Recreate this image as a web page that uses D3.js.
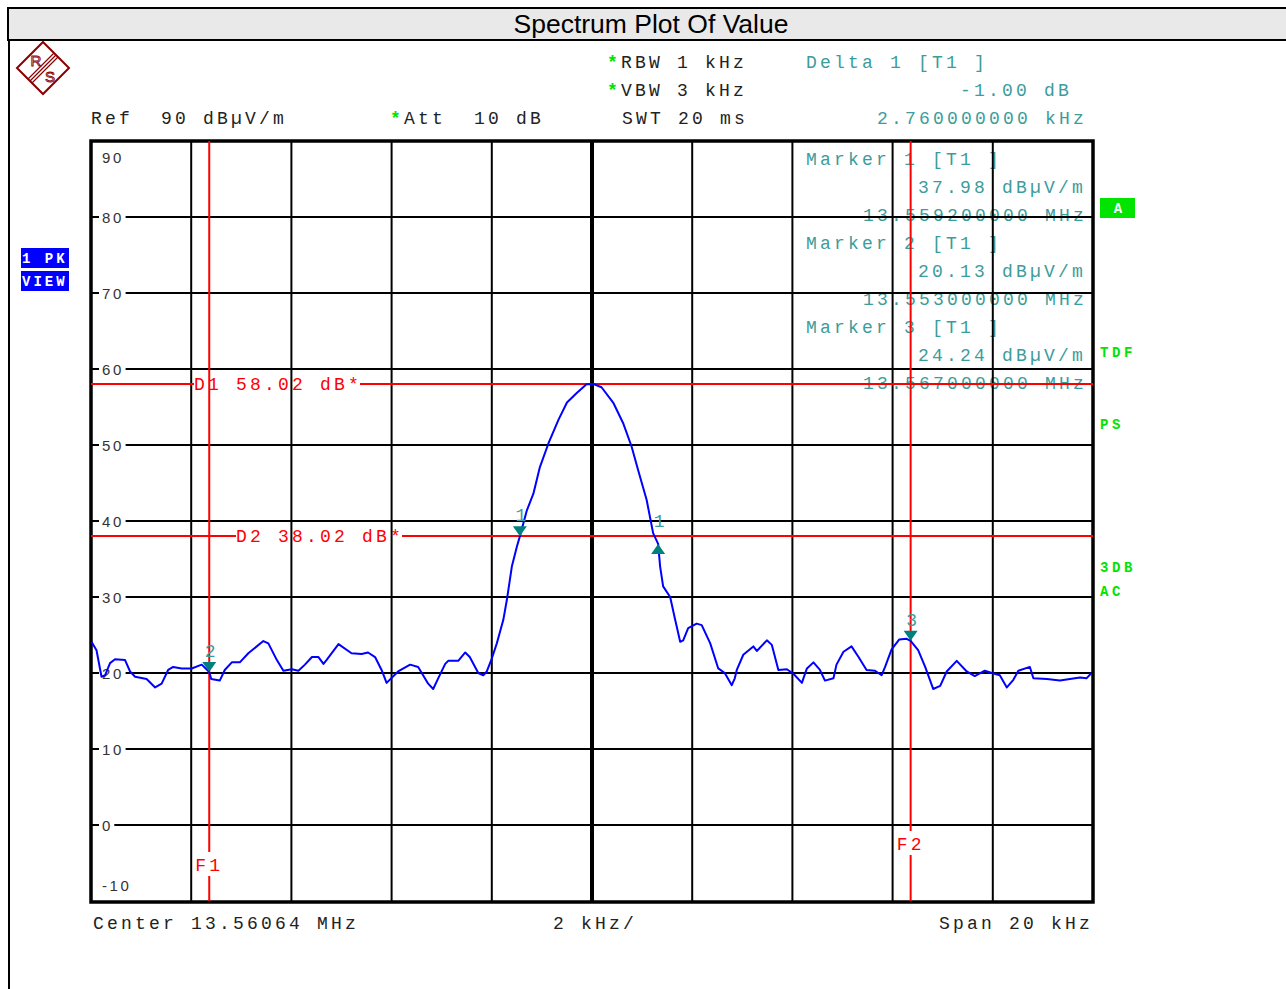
<!DOCTYPE html>
<html>
<head>
<meta charset="utf-8">
<script src="https://cdn.jsdelivr.net/npm/d3@7"></script>
<style>
  body { margin: 0; background: #fff; }
  svg { display: block; }
  .mono { font-family: "Liberation Mono", "Courier New", monospace; font-size: 18px; letter-spacing: 3.2px; }
  .flag { font-family: "Liberation Mono", monospace; font-size: 14px; font-weight: bold; letter-spacing: 3.6px; }
  .ylab { font-family: "Liberation Sans", Arial, sans-serif; font-size: 15px; letter-spacing: 2.6px; fill: #333; }
</style>
</head>
<body>
<div id="chart"></div>
<script>
// trace: offset from centre (kHz) and level (dBµV/m)
const traceKHz = [-9.99,-9.89,-9.79,-9.72,-9.62,-9.52,-9.32,-9.22,-9.12,-8.89,
  -8.72,-8.59,-8.46,-8.36,-8.19,-7.99,-7.79,-7.64,-7.60,-7.43,
  -7.33,-7.19,-7.03,-6.86,-6.56,-6.46,-6.29,-6.16,-5.99,-5.86,
  -5.73,-5.59,-5.46,-5.36,-5.30,-5.06,-4.80,-4.60,-4.47,-4.33,
  -4.20,-4.10,-3.87,-3.63,-3.47,-3.27,-3.17,-3.07,-2.93,-2.87,
  -2.67,-2.53,-2.44,-2.27,-2.17,-2.10,-2.00,-1.90,-1.77,-1.70,
  -1.60,-1.50,-1.44,-1.30,-1.17,-1.04,-0.87,-0.67,-0.50,-0.31,
  -0.11,0.03,0.19,0.43,0.62,0.79,0.92,1.09,1.22,1.32,
  1.36,1.42,1.56,1.66,1.76,1.82,1.92,2.09,2.19,2.36,
  2.52,2.65,2.79,2.85,2.89,3.02,3.22,3.29,3.49,3.59,
  3.72,3.89,4.02,4.19,4.22,4.29,4.42,4.55,4.65,4.82,
  4.88,5.02,5.18,5.32,5.48,5.65,5.78,5.85,5.98,6.13,
  6.28,6.36,6.51,6.65,6.81,6.95,7.08,7.28,7.48,7.64,
  7.84,7.98,8.14,8.28,8.41,8.51,8.74,8.81,9.08,9.34,
  9.54,9.74,9.87,9.97];
const traceDB = [24.1,23.0,19.5,19.7,21.3,21.8,21.7,20.2,19.5,19.2,
  18.1,18.6,20.4,20.8,20.6,20.6,21.1,20.13,19.2,19.0,
  20.4,21.4,21.4,22.6,24.2,23.9,21.7,20.3,20.5,20.3,
  21.1,22.1,22.1,21.2,21.7,23.8,22.6,22.5,22.7,22.1,
  20.4,18.7,20.2,21.1,20.8,18.6,17.9,19.3,21.2,21.6,
  21.6,22.7,22.1,20.0,19.7,20.2,21.9,23.9,27.0,29.6,
  34.0,36.6,37.98,41.4,43.6,47.1,50.2,53.3,55.6,56.8,
  58.0,58.02,57.6,55.5,52.9,49.8,46.7,42.8,38.4,36.98,
  34.0,31.4,30.0,27.0,24.1,24.3,25.9,26.5,26.3,23.9,
  20.6,20.0,18.4,19.3,20.4,22.4,23.5,22.9,24.3,23.7,
  20.4,20.5,19.9,18.7,19.3,20.6,21.4,20.4,19.0,19.3,
  21.1,22.8,23.5,22.1,20.4,20.3,19.7,20.8,23.1,24.4,
  24.5,24.24,23.0,20.8,17.9,18.3,20.2,21.6,20.2,19.6,
  20.3,20.0,19.7,18.1,19.1,20.3,20.8,19.3,19.2,19.0,
  19.2,19.4,19.3,20.0];

const centerMHz = 13.56064;
const spanKHz = 20;
const yTicks = [90, 80, 70, 60, 50, 40, 30, 20, 10, 0, -10];
const xDivs = [-8, -6, -4, -2, 0, 2, 4, 6, 8];

const markerNames = ["1", "2", "3"];
const markerMHz = [13.5592, 13.553, 13.567];
const markerDB = [37.98, 20.13, 24.24];
const deltaKHz = 2.76;
const deltaDB = -1.00;
const displayLines = [58.02, 38.02];
const freqLinesMHz = [13.553, 13.567];

const W = 1286, H = 989;
const plot = { left: 91, right: 1093, top: 141, bottom: 901 };
const teal = "#3c9c9c", green = "#00e400";

const svg = d3.select("#chart").append("svg")
  .attr("width", W).attr("height", H);

const x = d3.scaleLinear().domain([-spanKHz / 2, spanKHz / 2]).range([plot.left, plot.right]);
const y = d3.scaleLinear().domain([-10, 90]).range([plot.bottom, plot.top]);
const toKHz = f => (f - centerMHz) * 1000;

// mono text, cell width 14px
const mono = (g, str, x0, yb, color, cls) => g.append("text")
  .attr("class", cls || "mono")
  .attr("x", x0).attr("y", yb)
  .attr("fill", color)
  .attr("xml:space", "preserve")
  .style("white-space", "pre")
  .text(str);

// title bar and left border
svg.append("rect").attr("x", 8).attr("y", 8).attr("width", W).attr("height", 32)
  .attr("fill", "#e9e9e9").attr("stroke", "#000").attr("stroke-width", 2);
svg.append("line").attr("x1", 9).attr("x2", 9).attr("y1", 40).attr("y2", H)
  .attr("stroke", "#000").attr("stroke-width", 2);
svg.append("text").attr("x", 651).attr("y", 33).attr("text-anchor", "middle")
  .style("font-family", "'Liberation Sans', Arial, sans-serif").style("font-size", "26.5px")
  .text("Spectrum Plot Of Value");

// R&S logo
const logo = svg.append("g").attr("stroke", "#8b0000").attr("fill", "none").attr("stroke-width", 2);
logo.append("path").attr("d", "M43,42 L69,68 L43,94 L17,68 Z");
[-2.8, 0, 2.8].forEach(o => {
  logo.append("line")
    .attr("x1", 56 + o * 0.707).attr("y1", 55 + o * 0.707)
    .attr("x2", 30 + o * 0.707).attr("y2", 81 + o * 0.707)
    .attr("stroke-width", 1.2);
});
svg.append("text").attr("x", 36).attr("y", 66).attr("text-anchor", "middle")
  .style("font-family", "'Liberation Sans', sans-serif").style("font-size", "15px")
  .attr("fill", "none").attr("stroke", "#8b0000").attr("stroke-width", 0.9).text("R");
svg.append("text").attr("x", 50).attr("y", 82).attr("text-anchor", "middle")
  .style("font-family", "'Liberation Sans', sans-serif").style("font-size", "15px")
  .attr("fill", "none").attr("stroke", "#8b0000").attr("stroke-width", 0.9).text("S");

// header settings
const head = svg.append("g");
mono(head, "*", 607, 68, green).style("font-weight", "bold");
mono(head, "RBW 1 kHz", 621, 68, "#222");
mono(head, "*", 607, 96, green).style("font-weight", "bold");
mono(head, "VBW 3 kHz", 621, 96, "#222");
mono(head, "SWT 20 ms", 622, 124, "#222");
mono(head, "Ref  90 dBµV/m", 91, 124, "#222");
mono(head, "*", 390, 124, green).style("font-weight", "bold");
mono(head, "Att  10 dB", 404, 124, "#222");
mono(head, "Delta 1 [T1 ]", 806, 68, teal);
mono(head, (deltaDB.toFixed(2)) + " dB", 960, 96, teal);
mono(head, deltaKHz.toFixed(9) + " kHz", 877, 124, teal);

// left flags
[["1 PK", 248], ["VIEW", 271]].forEach(([t, yy]) => {
  svg.append("rect").attr("x", 21).attr("y", yy).attr("width", 48).attr("height", 20).attr("fill", "#0000ff");
  mono(svg, t, 22, yy + 15, "#fff", "flag").style("letter-spacing", "3px");
});

// right flags
svg.append("rect").attr("x", 1100).attr("y", 198).attr("width", 35).attr("height", 20).attr("fill", green);
svg.append("text").attr("class", "flag").attr("x", 1118).attr("y", 213).attr("text-anchor", "middle")
  .style("letter-spacing", "0px").attr("fill", "#fff").text("A");
[["TDF", 357], ["PS", 429], ["3DB", 572], ["AC", 596]].forEach(([t, yy]) => {
  mono(svg, t, 1100, yy, green, "flag");
});

// marker info (sits under the grid)
const info = svg.append("g");
markerNames.forEach((m, i) => {
  const b = 165 + i * 84;
  mono(info, "Marker " + m + " [T1 ]", 806, b, teal);
  mono(info, markerDB[i].toFixed(2) + " dBµV/m", 918, b + 28, teal);
  mono(info, markerMHz[i].toFixed(9) + " MHz", 863, b + 56, teal);
});

// grid
const grid = svg.append("g").attr("stroke", "#000");
grid.selectAll(".v").data(xDivs).enter().append("line")
  .attr("x1", d => x(d)).attr("x2", d => x(d))
  .attr("y1", plot.top).attr("y2", plot.bottom)
  .attr("stroke-width", d => d === 0 ? 4 : 2);
grid.selectAll(".h").data(yTicks.slice(1, -1)).enter().append("line")
  .attr("x1", plot.left).attr("x2", plot.right)
  .attr("y1", d => y(d)).attr("y2", d => y(d))
  .attr("stroke-width", 2);

// y labels
const ylab = svg.append("g");
yTicks.forEach((t, i) => {
  const s = String(t);
  let yy = y(t);
  if (i === 0) yy = 157;
  else if (i === yTicks.length - 1) yy = 885;
  else ylab.append("rect").attr("x", 99).attr("y", yy - 7)
    .attr("width", s.length * 11.3 + 4).attr("height", 14).attr("fill", "#fff");
  ylab.append("text").attr("class", "ylab").attr("x", 102).attr("y", yy + 5.5).text(s);
});

// frame
svg.append("rect")
  .attr("x", plot.left).attr("y", plot.top)
  .attr("width", plot.right - plot.left).attr("height", plot.bottom - plot.top + 1)
  .attr("fill", "none").attr("stroke", "#000").attr("stroke-width", 3.5);

// display lines D1 / D2
const red = "#ff0000";
const lines = svg.append("g").attr("stroke", red).attr("stroke-width", 2);
const dStart = [194, 236];
displayLines.forEach((v, i) => {
  const label = "D" + (i + 1) + " " + v.toFixed(2) + " dB*";
  const x0 = dStart[i], x1 = x0 + label.length * 14 - 2;
  lines.append("line").attr("x1", plot.left).attr("x2", x0).attr("y1", y(v)).attr("y2", y(v));
  lines.append("line").attr("x1", x1).attr("x2", plot.right).attr("y1", y(v)).attr("y2", y(v));
  mono(svg, label, x0, y(v) + 5.5, red);
});

// frequency lines F1 / F2
const fLabelY = [864, 843];
freqLinesMHz.forEach((f, i) => {
  const xx = x(toKHz(f)), ly = fLabelY[i];
  lines.append("line").attr("x1", xx).attr("x2", xx).attr("y1", plot.top).attr("y2", ly - 12);
  lines.append("line").attr("x1", xx).attr("x2", xx).attr("y1", ly + 12).attr("y2", plot.bottom);
  mono(svg, "F" + (i + 1), xx - 14, ly + 6.5, red);
});

// trace
const trace = d3.line().x(d => x(d[0])).y(d => y(d[1])).curve(d3.curveLinear);
svg.append("path")
  .datum(traceKHz.map((k, i) => [k, traceDB[i]]))
  .attr("fill", "none").attr("stroke", "#0000ff").attr("stroke-width", 2)
  .attr("stroke-linejoin", "round")
  .attr("d", trace);

// marker symbols
const mk = svg.append("g");
const tealDark = "#007f7f";
markerNames.forEach((m, i) => {
  const mx = x(toKHz(markerMHz[i])), my = y(markerDB[i]);
  mk.append("path").attr("d", `M${mx - 7},${my - 10} L${mx + 7},${my - 10} L${mx},${my} Z`).attr("fill", tealDark);
  mk.append("text").attr("class", "mono").style("letter-spacing", "0px")
    .attr("x", mx + 1).attr("y", my - 15).attr("text-anchor", "middle").attr("fill", teal).text(m);
});
const dx = x(toKHz(markerMHz[0]) + deltaKHz), dy = y(markerDB[0] + deltaDB);
mk.append("path").attr("d", `M${dx - 7},${dy + 10} L${dx + 7},${dy + 10} L${dx},${dy} Z`).attr("fill", tealDark);
mk.append("text").attr("class", "mono").style("letter-spacing", "0px")
  .attr("x", dx + 1).attr("y", dy - 17).attr("text-anchor", "middle").attr("fill", teal).text("1");

// bottom labels
mono(svg, "Center " + centerMHz + " MHz", 93, 929, "#222");
mono(svg, (spanKHz / 10) + " kHz/", 553, 929, "#222");
mono(svg, "Span " + spanKHz + " kHz", 939, 929, "#222");
</script>
</body>
</html>
